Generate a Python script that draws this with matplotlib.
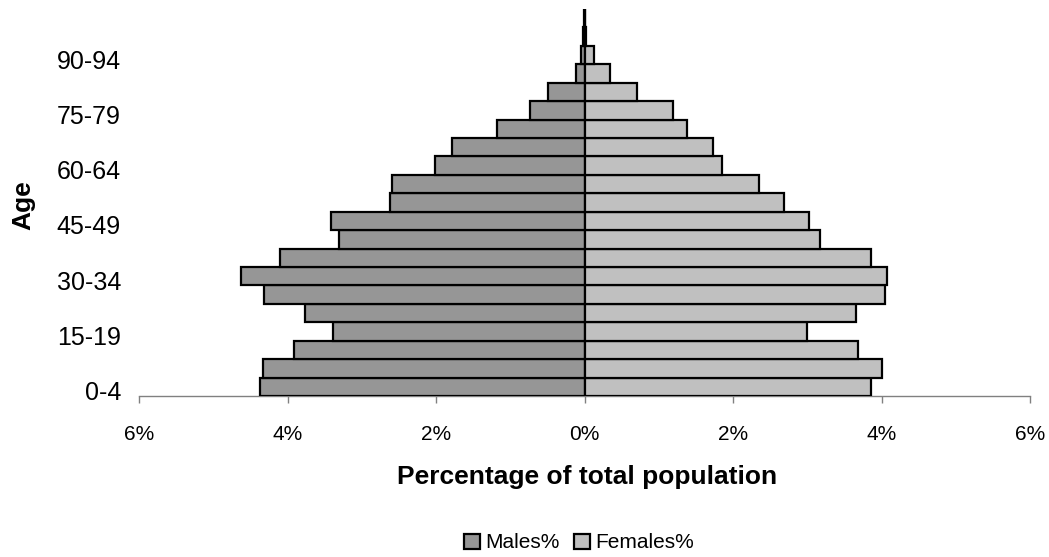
import matplotlib
matplotlib.use("Agg")
import matplotlib.pyplot as plt
import matplotlib.transforms as mtransforms
from matplotlib.patches import Patch
from matplotlib.ticker import FixedLocator, FuncFormatter

plt.rcParams['font.family'] = ['Liberation Sans', 'DejaVu Sans']

# Five-year age bands, youngest first
age_groups = ['0-4', '5-9', '10-14', '15-19', '20-24', '25-29', '30-34',
              '35-39', '40-44', '45-49', '50-54', '55-59', '60-64', '65-69',
              '70-74', '75-79', '80-84', '85-89', '90-94', '95-99', '100+']

# Share of total population (%)
males_pct = [4.37, 4.33, 3.91, 3.39, 3.77, 4.31, 4.62, 4.10, 3.31, 3.41,
             2.62, 2.59, 2.01, 1.78, 1.18, 0.73, 0.49, 0.11, 0.045, 0.02, 0.005]
females_pct = [3.86, 4.01, 3.68, 3.00, 3.65, 4.05, 4.07, 3.86, 3.17, 3.02,
               2.69, 2.35, 1.85, 1.73, 1.38, 1.19, 0.71, 0.35, 0.13, 0.025, 0.005]

x_ticks = [-6, -4, -2, 0, 2, 4, 6]

male_color = '#969696'
female_color = '#c0c0c0'

W, H = 1049, 557
fig = plt.figure(figsize=(W / 100, H / 100), dpi=100)
ax = fig.add_axes([139 / W, 1 - 396 / H, (1030 - 139) / W, (396 - 9) / H])

pos = list(range(len(age_groups)))
ax.barh(pos, [-v for v in males_pct], height=1.0, color=male_color,
        edgecolor='black', linewidth=1.6, zorder=2)
ax.barh(pos, females_pct, height=1.0, color=female_color,
        edgecolor='black', linewidth=1.6, zorder=2)

ax.set_xlim(-6, 6)
ax.set_ylim(-0.5, len(age_groups) - 0.5)

ax.xaxis.set_major_locator(FixedLocator(x_ticks))
ax.xaxis.set_major_formatter(FuncFormatter(lambda v, p: f"{abs(int(round(v)))}%"))
ax.tick_params(axis='x', direction='out', length=5, width=1, color='#808080',
               pad=16, labelsize=15)

label_idx = pos[::3]
ax.set_yticks(label_idx)
ax.set_yticklabels([age_groups[i] for i in label_idx])
ax.tick_params(axis='y', length=0, pad=13, labelsize=18)
shift = mtransforms.ScaledTranslation(0, -4 / 100, fig.dpi_scale_trans)
for lbl in ax.get_yticklabels():
    lbl.set_transform(lbl.get_transform() + shift)

for side in ('left', 'right', 'top'):
    ax.spines[side].set_visible(False)
ax.spines['bottom'].set_color('#808080')
ax.spines['bottom'].set_linewidth(1)
ax.spines['bottom'].set_zorder(1)

fig.text(587 / W, 1 - 477 / H, 'Percentage of total population',
         ha='center', va='center', fontsize=19, fontweight='bold')
fig.text(23 / W, 1 - 205 / H, 'Age', ha='center', va='center',
         rotation=90, fontsize=19, fontweight='bold')

handles = [Patch(facecolor=male_color, edgecolor='black', linewidth=1.6),
           Patch(facecolor=female_color, edgecolor='black', linewidth=1.6)]
fig.legend(handles, ['Males%', 'Females%'], loc='center',
           bbox_to_anchor=(579 / W, 1 - 543 / H), ncol=2, frameon=False,
           fontsize=15, handlelength=0.75, handleheight=0.75,
           handletextpad=0.25, columnspacing=0.7)

fig.savefig('out.png', dpi=100)
